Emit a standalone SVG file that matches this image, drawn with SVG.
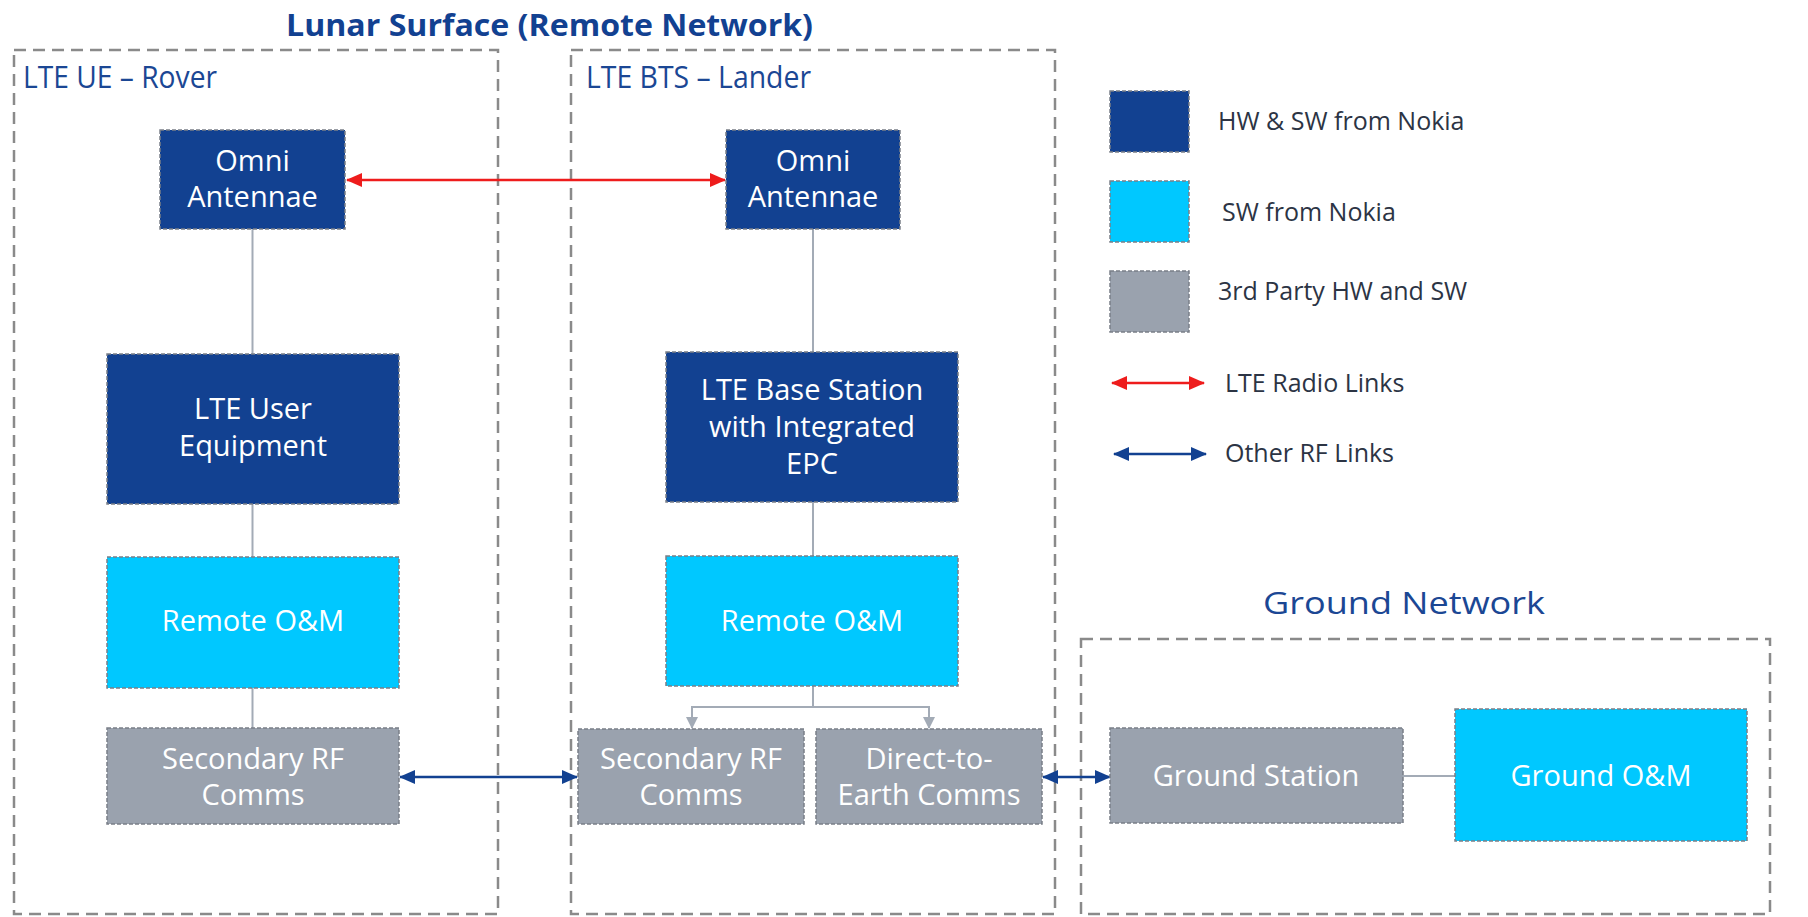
<svg xmlns="http://www.w3.org/2000/svg" width="1808" height="917" viewBox="0 0 1808 917">
  <defs>
    <marker id="redHead" viewBox="0 0 16 14" refX="15" refY="7" markerWidth="16" markerHeight="14" markerUnits="userSpaceOnUse" orient="auto-start-reverse">
      <path d="M0,0 L16,7 L0,14 z" fill="#ee1c1c"/>
    </marker>
    <marker id="blueHead" viewBox="0 0 16 14" refX="15" refY="7" markerWidth="16" markerHeight="14" markerUnits="userSpaceOnUse" orient="auto-start-reverse">
      <path d="M0,0 L16,7 L0,14 z" fill="#124191"/>
    </marker>
    <marker id="greyHead" viewBox="0 0 12 12" refX="11" refY="6" markerWidth="12" markerHeight="12" markerUnits="userSpaceOnUse" orient="auto">
      <path d="M0,0 L12,6 L0,12 z" fill="#a3abb6"/>
    </marker>
    <style>
      .container { fill: none; stroke: #8a8a8a; stroke-width: 2.5; stroke-dasharray: 12 7; }
      .node { stroke: #7a7f88; stroke-width: 1.5; stroke-dasharray: 4 2; }
      .hw { fill: #124191; }
      .sw { fill: #00c8ff; }
      .tp { fill: #9aa2ae; }
      .ntext { font-family: "Open Sans", "Noto Sans", sans-serif; font-size: 29px; fill: #ffffff; text-anchor: middle; }
      .title { font-family: "Open Sans", "Noto Sans", sans-serif; font-weight: bold; font-size: 31px; fill: #124191; }
      .clabel { font-family: "Open Sans", "Noto Sans", sans-serif; font-size: 31px; fill: #1b4794; }
      .legend { font-family: "Open Sans", "Noto Sans", sans-serif; font-size: 25px; fill: #2c3444; }
      .wire { fill: none; stroke: #a3abb6; stroke-width: 2; }
      .lte { fill: none; stroke: #ee1c1c; stroke-width: 2.5; }
      .rf { fill: none; stroke: #124191; stroke-width: 2.5; }
    </style>
  </defs>

  <rect width="1808" height="917" fill="#ffffff"/>

  <!-- headings -->
  <text class="title" x="286" y="36" textLength="527" lengthAdjust="spacingAndGlyphs">Lunar Surface (Remote Network)</text>
  <text class="clabel" x="1263" y="614" font-size="39" textLength="282" lengthAdjust="spacingAndGlyphs">Ground Network</text>

  <!-- containers -->
  <g id="rover">
    <rect class="container" x="14" y="50" width="484" height="864"/>
    <text class="clabel" x="23" y="88" textLength="194" lengthAdjust="spacingAndGlyphs">LTE UE – Rover</text>
  </g>
  <g id="lander">
    <rect class="container" x="571" y="50" width="484" height="864"/>
    <text class="clabel" x="586" y="88" textLength="225" lengthAdjust="spacingAndGlyphs">LTE BTS – Lander</text>
  </g>
  <g id="ground">
    <rect class="container" x="1081" y="639" width="689" height="275"/>
  </g>

  <!-- connectors -->
  <g id="connectors">
    <line class="wire" x1="252.5" y1="229" x2="252.5" y2="354"/>
    <line class="wire" x1="252.5" y1="504" x2="252.5" y2="557"/>
    <line class="wire" x1="252.5" y1="688" x2="252.5" y2="728"/>
    <line class="wire" x1="813" y1="229" x2="813" y2="352"/>
    <line class="wire" x1="813" y1="502" x2="813" y2="556"/>
    <path class="wire" d="M813,686 V707 M692,707 H929"/>
    <path class="wire" d="M692,706 V728" marker-end="url(#greyHead)"/>
    <path class="wire" d="M929,706 V728" marker-end="url(#greyHead)"/>
    <line class="wire" x1="1403" y1="776" x2="1455" y2="776"/>
    <line class="lte" x1="347" y1="180" x2="725" y2="180" marker-start="url(#redHead)" marker-end="url(#redHead)"/>
    <line class="rf" x1="400" y1="777" x2="577" y2="777" marker-start="url(#blueHead)" marker-end="url(#blueHead)"/>
    <line class="rf" x1="1043" y1="777" x2="1110" y2="777" marker-start="url(#blueHead)" marker-end="url(#blueHead)"/>
  </g>

  <!-- rover nodes -->
  <g id="rover-omni">
    <rect class="node hw" x="160" y="130" width="185" height="99"/>
    <text class="ntext" x="252.5" y="171">Omni</text>
    <text class="ntext" x="252.5" y="207">Antennae</text>
  </g>
  <g id="rover-ue">
    <rect class="node hw" x="107" y="354" width="292" height="150"/>
    <text class="ntext" x="253" y="419">LTE User</text>
    <text class="ntext" x="253" y="456">Equipment</text>
  </g>
  <g id="rover-om">
    <rect class="node sw" x="107" y="557" width="292" height="131"/>
    <text class="ntext" x="253" y="631">Remote O&amp;M</text>
  </g>
  <g id="rover-rf">
    <rect class="node tp" x="107" y="728" width="292" height="96"/>
    <text class="ntext" x="253" y="769">Secondary RF</text>
    <text class="ntext" x="253" y="805">Comms</text>
  </g>

  <!-- lander nodes -->
  <g id="lander-omni">
    <rect class="node hw" x="726" y="130" width="174" height="99"/>
    <text class="ntext" x="813" y="171">Omni</text>
    <text class="ntext" x="813" y="207">Antennae</text>
  </g>
  <g id="lander-bts">
    <rect class="node hw" x="666" y="352" width="292" height="150"/>
    <text class="ntext" x="812" y="400">LTE Base Station</text>
    <text class="ntext" x="812" y="437">with Integrated</text>
    <text class="ntext" x="812" y="474">EPC</text>
  </g>
  <g id="lander-om">
    <rect class="node sw" x="666" y="556" width="292" height="130"/>
    <text class="ntext" x="812" y="631">Remote O&amp;M</text>
  </g>
  <g id="lander-rf">
    <rect class="node tp" x="578" y="729" width="226" height="95"/>
    <text class="ntext" x="691" y="769">Secondary RF</text>
    <text class="ntext" x="691" y="805">Comms</text>
  </g>
  <g id="lander-dte">
    <rect class="node tp" x="816" y="729" width="226" height="95"/>
    <text class="ntext" x="929" y="769">Direct-to-</text>
    <text class="ntext" x="929" y="805">Earth Comms</text>
  </g>

  <!-- ground nodes -->
  <g id="ground-station">
    <rect class="node tp" x="1110" y="728" width="293" height="95"/>
    <text class="ntext" x="1256" y="786">Ground Station</text>
  </g>
  <g id="ground-om">
    <rect class="node sw" x="1455" y="709" width="292" height="132"/>
    <text class="ntext" x="1601" y="786">Ground O&amp;M</text>
  </g>

  <!-- legend -->
  <g id="legend">
    <rect class="node hw" x="1110" y="91" width="79" height="61"/>
    <text class="legend" x="1218" y="130">HW &amp; SW from Nokia</text>
    <rect class="node sw" x="1110" y="181" width="79" height="61"/>
    <text class="legend" x="1222" y="221">SW from Nokia</text>
    <rect class="node tp" x="1110" y="271" width="79" height="61"/>
    <text class="legend" x="1218" y="300">3rd Party HW and SW</text>
    <line class="lte" x1="1112" y1="383" x2="1204" y2="383" marker-start="url(#redHead)" marker-end="url(#redHead)"/>
    <text class="legend" x="1225" y="392">LTE Radio Links</text>
    <line class="rf" x1="1114" y1="454" x2="1206" y2="454" marker-start="url(#blueHead)" marker-end="url(#blueHead)"/>
    <text class="legend" x="1225" y="462">Other RF Links</text>
  </g>
</svg>
